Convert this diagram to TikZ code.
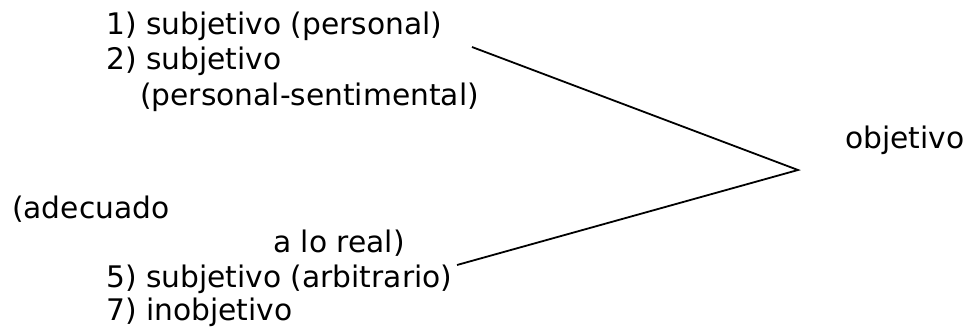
\documentclass[tikz,border=0pt]{standalone}
\usepackage{fontspec}
\setmainfont{DejaVu Sans}
\begin{document}
\begin{tikzpicture}[x=1pt,y=-1pt,
  lbl/.style={anchor=base west,inner sep=0pt,font=\fontsize{29.7}{34}\selectfont},
  link/.style={draw=black,line width=1.8pt}]
\useasboundingbox[fill=white] (0,0) rectangle (965,329);
\node[lbl] (s1) at (106,35) {1) subjetivo (personal)};
\node[lbl] (s2) at (106,70) {2) subjetivo};
\node[lbl] (s2b) at (140,105) {(personal-sentimental)};
\node[lbl] (obj) at (845,148) {objetivo};
\node[lbl] (ad) at (12,218) {(adecuado};
\node[lbl] (real) at (273,252) {a lo real)};
\node[lbl] (s5) at (106,287) {5) subjetivo (arbitrario)};
\node[lbl] (s7) at (106,320) {7) inobjetivo};
\coordinate (a) at (472,47);
\coordinate (v) at (798,170);
\coordinate (b) at (457,265);
\draw[link] (a) -- (v) -- (b);
\end{tikzpicture}
\end{document}
